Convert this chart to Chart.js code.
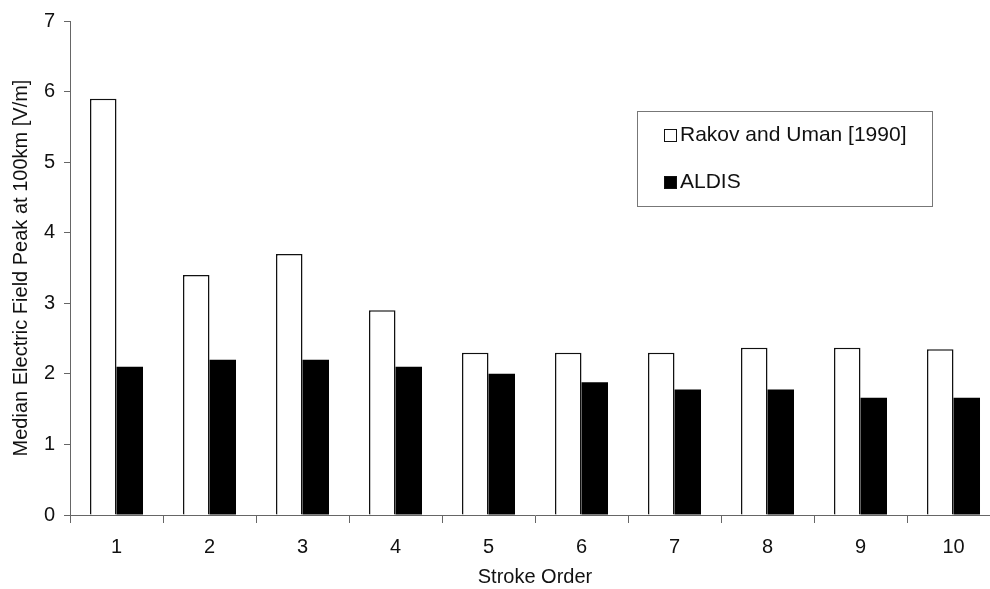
<!DOCTYPE html>
<html>
<head>
<meta charset="utf-8">
<script src="https://cdn.jsdelivr.net/npm/chart.js@4.4.1/dist/chart.umd.min.js"></script>
<style>
  html, body { margin: 0; padding: 0; background: #fff; overflow: hidden; }
  #wrap { position: relative; width: 1010px; height: 589px; }
</style>
</head>
<body>
<div id="wrap"><canvas id="bar-chart"></canvas></div>
<script>
// datos
var strokeOrder = ['1', '2', '3', '4', '5', '6', '7', '8', '9', '10'];
var rakovUman = [5.9, 3.4, 3.7, 2.9, 2.3, 2.3, 2.3, 2.37, 2.37, 2.35];
var aldis = [2.1, 2.2, 2.2, 2.1, 2.0, 1.88, 1.78, 1.78, 1.66, 1.66];
var yTicks = [0, 1, 2, 3, 4, 5, 6, 7];

var FONT = '"Liberation Sans", Arial, sans-serif';

// leyenda con recuadro, como en el original
var boxLegend = {
    id: 'boxLegend',
    afterDraw: function (chart) {
        var ctx = chart.ctx;
        var x0 = 637, y0 = 111, w = 295, h = 95;
        ctx.save();
        ctx.strokeStyle = '#777';
        ctx.lineWidth = 1;
        ctx.strokeRect(x0 + 0.5, y0 + 0.5, w, h);
        ctx.font = '21px ' + FONT;
        ctx.textBaseline = 'middle';
        chart.data.datasets.forEach(function (ds, i) {
            var cy = 135 + i * 47;
            ctx.fillStyle = ds.backgroundColor;
            ctx.fillRect(664, cy - 6, 13, 13);
            ctx.strokeStyle = '#111';
            ctx.lineWidth = 1;
            ctx.strokeRect(664.5, cy - 5.5, 12, 12);
            ctx.fillStyle = '#111';
            ctx.fillText(ds.label, 680, cy);
        });
        ctx.restore();
    }
};

function bar_report() {
    var canvas = document.getElementById('bar-chart');
    var ctx = canvas.getContext('2d');
    var chart = new Chart(ctx, {
        type: 'bar',
        data: {
            labels: strokeOrder,
            datasets: [{
                label: 'Rakov and Uman [1990]',
                data: rakovUman,
                backgroundColor: '#ffffff',
                borderColor: '#111111',
                borderWidth: 1.5,
                borderSkipped: 'start'
            }, {
                label: 'ALDIS',
                data: aldis,
                backgroundColor: '#000000',
                borderWidth: 0
            }]
        },
        options: {
            responsive: true,
            maintainAspectRatio: false,
            animation: false,
            categoryPercentage: 0.57,
            barPercentage: 1.0,
            layout: { padding: { top: 20, right: 10, left: 0, bottom: 0 } },
            plugins: {
                legend: { display: false },
                tooltip: { enabled: false }
            },
            scales: {
                x: {
                    grid: {
                        display: true,
                        drawOnChartArea: false,
                        drawTicks: true,
                        tickLength: 8,
                        color: '#666',
                        offset: true
                    },
                    border: { display: true, color: '#666', width: 1 },
                    ticks: {
                        color: '#111',
                        font: { family: FONT, size: 20 },
                        padding: 12,
                        maxRotation: 0
                    },
                    title: {
                        display: true,
                        text: 'Stroke Order',
                        color: '#111',
                        font: { family: FONT, size: 20 },
                        padding: { top: 0, bottom: 0 }
                    },
                    afterFit: function (scale) { scale.height = 74; }
                },
                y: {
                    min: 0,
                    max: 7,
                    afterBuildTicks: function (scale) {
                        scale.ticks = yTicks.map(function (v) { return { value: v }; });
                    },
                    grid: {
                        display: true,
                        drawOnChartArea: false,
                        drawTicks: true,
                        tickLength: 6,
                        color: '#666'
                    },
                    border: { display: true, color: '#666', width: 1 },
                    ticks: {
                        color: '#111',
                        font: { family: FONT, size: 20 },
                        padding: 9
                    },
                    title: {
                        display: true,
                        text: 'Median Electric Field Peak at 100km [V/m]',
                        color: '#111',
                        font: { family: FONT, size: 20 },
                        padding: { top: 9, bottom: 0 }
                    },
                    afterFit: function (scale) { scale.width = 70; }
                }
            }
        },
        plugins: [boxLegend]
    });
    canvas.chart = chart;
}

bar_report();
</script>
</body>
</html>
